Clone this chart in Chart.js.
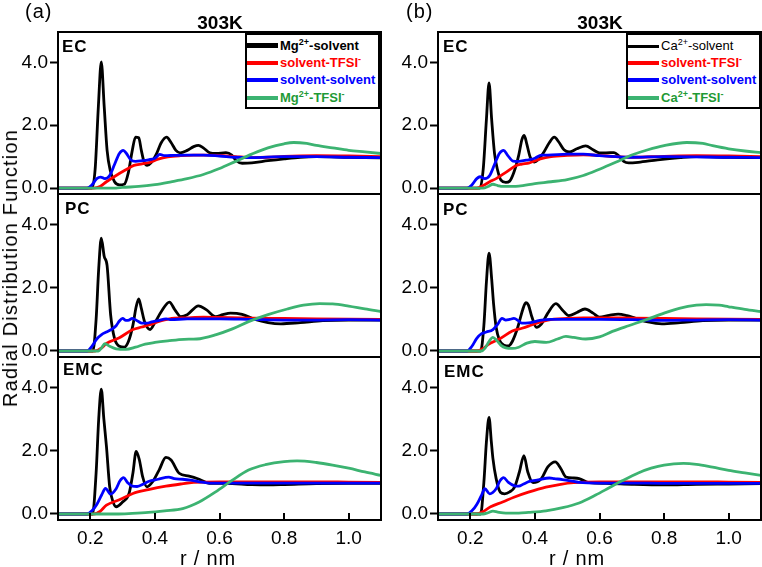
<!DOCTYPE html>
<html>
<head>
<meta charset="utf-8">
<script src="https://cdn.jsdelivr.net/npm/chart.js@4.4.0/dist/chart.umd.min.js"></script>
<style>
html,body{margin:0;padding:0;background:#fff;}
#wrap{position:relative;width:762px;height:567px;overflow:hidden;font-family:"Liberation Sans",Arial,Helvetica,sans-serif;background:#fff;}
canvas{position:absolute;}
.t{position:absolute;white-space:nowrap;color:#000;line-height:1;}
.b{font-weight:bold;}
.leg{position:absolute;top:33px;width:135px;height:76px;border:2px solid #000;background:#fff;box-sizing:border-box;z-index:5;}
.row{position:absolute;left:0;height:16px;width:131px;}
.ln{position:absolute;left:0;top:6px;width:31px;height:4px;}
.lt{position:absolute;left:33px;top:0;line-height:16px;font-size:13px;font-weight:bold;white-space:nowrap;}
.lt sup{font-size:9px;vertical-align:5px;line-height:0;}
</style>
</head>
<body>
<div id="wrap">
  <canvas id="c00" width="390" height="192" style="left:0;top:17px"></canvas>
  <canvas id="c01" width="390" height="193" style="left:0;top:179px"></canvas>
  <canvas id="c02" width="390" height="225" style="left:0;top:342px"></canvas>
  <canvas id="c10" width="382" height="192" style="left:380px;top:17px"></canvas>
  <canvas id="c11" width="382" height="193" style="left:380px;top:179px"></canvas>
  <canvas id="c12" width="382" height="225" style="left:380px;top:342px"></canvas>

  <div class="t" style="left:25px;top:1px;font-size:20px;letter-spacing:1px">(a)</div>
  <div class="t" style="left:406px;top:1px;font-size:20px;letter-spacing:1px">(b)</div>
  <div class="t b" style="left:220px;top:13px;font-size:19px;transform:translateX(-50%)">303K</div>
  <div class="t b" style="left:600px;top:13px;font-size:19px;transform:translateX(-50%)">303K</div>

  <div class="t b" style="left:62px;top:38px;font-size:17px;letter-spacing:1px;z-index:4">EC</div>
  <div class="t b" style="left:65px;top:200px;font-size:17px;letter-spacing:1px;z-index:4">PC</div>
  <div class="t b" style="left:63px;top:361px;font-size:17px;letter-spacing:1px;z-index:4">EMC</div>
  <div class="t b" style="left:443px;top:38px;font-size:17px;letter-spacing:1px;z-index:4">EC</div>
  <div class="t b" style="left:443px;top:201px;font-size:17px;letter-spacing:1px;z-index:4">PC</div>
  <div class="t b" style="left:444px;top:363px;font-size:17px;letter-spacing:1px;z-index:4">EMC</div>

  <div class="t" style="left:10px;top:268px;font-size:20px;letter-spacing:1.2px;transform:translate(-50%,-50%) rotate(-90deg)">Radial Distribution Function</div>
  <div class="t" style="left:208px;top:558px;font-size:20px;letter-spacing:0.8px;transform:translate(-50%,-50%)">r / nm</div>
  <div class="t" style="left:577px;top:558px;font-size:20px;letter-spacing:0.8px;transform:translate(-50%,-50%)">r / nm</div>

  <div class="leg" style="left:245px">
    <div class="row" style="top:3px"><span class="ln" style="background:#000;height:5px;top:5px"></span><span class="lt" style="color:#000">Mg<sup>2+</sup>-solvent</span></div>
    <div class="row" style="top:20px"><span class="ln" style="background:#ff0000"></span><span class="lt" style="color:#ff0000">solvent-TFSI<sup>-</sup></span></div>
    <div class="row" style="top:37px"><span class="ln" style="background:#0000ff"></span><span class="lt" style="color:#0000ff">solvent-solvent</span></div>
    <div class="row" style="top:55px"><span class="ln" style="background:#3cb371"></span><span class="lt" style="color:#1f9a35">Mg<sup>2+</sup>-TFSI<sup>-</sup></span></div>
  </div>
  <div class="leg" style="left:626px">
    <div class="row" style="top:3px"><span class="ln" style="background:#000;height:3px;top:7px"></span><span class="lt" style="color:#000;font-weight:normal">Ca<sup>2+</sup>-solvent</span></div>
    <div class="row" style="top:20px"><span class="ln" style="background:#ff0000"></span><span class="lt" style="color:#ff0000">solvent-TFSI<sup>-</sup></span></div>
    <div class="row" style="top:37px"><span class="ln" style="background:#0000ff"></span><span class="lt" style="color:#0000ff">solvent-solvent</span></div>
    <div class="row" style="top:55px"><span class="ln" style="background:#3cb371"></span><span class="lt" style="color:#1f9a35">Ca<sup>2+</sup>-TFSI<sup>-</sup></span></div>
  </div>
</div>
<script>
// ---------- categories / ticks ----------
const solvents = ['EC', 'PC', 'EMC'];
const xTicks = [0.2, 0.4, 0.6, 0.8, 1.0];
const yTicks = [0, 2, 4];
const seriesLabels = ['cation-solvent', 'solvent-TFSI-', 'solvent-solvent', 'cation-TFSI-'];

// ---------- (a) Mg, EC ----------
const mgEC_MS = [[0.10,0],[0.205,0],[0.215,0.6],[0.225,2.6],[0.234,4.02],[0.243,2.6],[0.252,1.2],[0.262,0.55],[0.275,0.2],[0.29,0.1],[0.305,0.12],[0.318,0.5],[0.33,1.2],[0.34,1.62],[0.35,1.6],[0.358,1.2],[0.366,0.85],[0.376,0.72],[0.388,0.8],[0.404,1.07],[0.42,1.45],[0.436,1.62],[0.45,1.45],[0.465,1.2],[0.478,1.12],[0.50,1.2],[0.52,1.32],[0.535,1.36],[0.55,1.28],[0.57,1.12],[0.59,1.1],[0.62,1.13],[0.638,1.05],[0.652,0.87],[0.67,0.79],[0.70,0.8],[0.75,0.87],[0.80,0.93],[0.85,0.98],[0.90,1.0],[1.0,0.98],[1.1,0.96]];
const mgEC_ST = [[0.10,0],[0.21,0],[0.23,0.05],[0.25,0.2],[0.28,0.4],[0.31,0.58],[0.335,0.72],[0.36,0.77],[0.385,0.82],[0.41,0.92],[0.44,0.99],[0.48,1.03],[0.52,1.05],[0.56,1.05],[0.60,1.04],[0.65,1.0],[0.70,0.97],[0.75,0.98],[0.80,1.01],[0.90,1.03],[1.0,1.02],[1.1,1.0]];
const mgEC_SS = [[0.10,0],[0.19,0],[0.205,0.1],[0.22,0.3],[0.232,0.35],[0.245,0.3],[0.26,0.4],[0.275,0.75],[0.29,1.1],[0.302,1.2],[0.312,1.1],[0.325,0.9],[0.34,0.85],[0.36,0.87],[0.38,0.9],[0.40,0.95],[0.415,1.07],[0.43,1.03],[0.46,1.04],[0.50,1.05],[0.55,1.05],[0.60,1.02],[0.65,0.98],[0.70,0.97],[0.80,1.0],[0.90,1.0],[1.0,0.98],[1.1,0.97]];
const mgEC_MT = [[0.10,0],[0.28,0],[0.30,0.02],[0.35,0.05],[0.40,0.11],[0.45,0.2],[0.50,0.3],[0.55,0.43],[0.60,0.62],[0.65,0.85],[0.70,1.08],[0.75,1.28],[0.80,1.41],[0.83,1.45],[0.87,1.42],[0.90,1.36],[0.95,1.28],[1.0,1.2],[1.05,1.15],[1.1,1.1]];

// ---------- (a) Mg, PC ----------
const mgPC_MS = [[0.10,0],[0.208,0],[0.218,1.0],[0.226,2.6],[0.234,3.57],[0.243,3.0],[0.252,2.7],[0.263,1.14],[0.275,0.4],[0.29,0.15],[0.305,0.12],[0.318,0.3],[0.332,0.82],[0.342,1.4],[0.35,1.65],[0.358,1.35],[0.368,0.93],[0.385,0.68],[0.40,0.9],[0.42,1.25],[0.445,1.55],[0.462,1.3],[0.48,1.09],[0.50,1.15],[0.535,1.43],[0.56,1.3],[0.588,1.09],[0.61,1.15],[0.634,1.2],[0.67,1.16],[0.71,1.0],[0.75,0.9],[0.79,0.86],[0.85,0.9],[0.92,0.96],[1.0,0.98],[1.1,0.98]];
const mgPC_ST = [[0.10,0],[0.215,0],[0.235,0.1],[0.25,0.24],[0.29,0.42],[0.332,0.68],[0.36,0.76],[0.383,0.83],[0.41,0.93],[0.445,1.02],[0.50,1.05],[0.55,1.07],[0.60,1.06],[0.70,1.04],[0.80,1.03],[0.90,1.02],[1.0,1.01],[1.1,1.0]];
const mgPC_SS = [[0.10,0],[0.19,0],[0.205,0.15],[0.22,0.38],[0.235,0.52],[0.25,0.6],[0.265,0.68],[0.28,0.8],[0.29,0.95],[0.30,1.03],[0.31,0.97],[0.32,0.98],[0.33,1.03],[0.345,0.96],[0.36,0.88],[0.375,0.88],[0.39,0.92],[0.41,0.96],[0.435,1.02],[0.45,0.99],[0.50,1.02],[0.60,1.02],[0.70,1.0],[0.80,0.98],[0.90,0.98],[1.0,0.99],[1.1,0.98]];
const mgPC_MT = [[0.10,0],[0.225,0],[0.235,0.1],[0.245,0.23],[0.26,0.15],[0.28,0.07],[0.31,0.05],[0.34,0.12],[0.37,0.22],[0.40,0.27],[0.44,0.32],[0.49,0.37],[0.53,0.38],[0.59,0.52],[0.64,0.7],[0.69,0.93],[0.75,1.15],[0.81,1.33],[0.86,1.45],[0.91,1.5],[0.95,1.49],[1.0,1.42],[1.05,1.33],[1.1,1.25]];

// ---------- (a) Mg, EMC ----------
const mgEMC_MS = [[0.10,0],[0.207,0],[0.218,1.3],[0.226,3.0],[0.234,3.95],[0.242,3.0],[0.25,2.14],[0.26,0.86],[0.27,0.4],[0.28,0.23],[0.30,0.38],[0.32,0.65],[0.332,1.3],[0.342,1.98],[0.352,1.71],[0.362,1.18],[0.375,0.86],[0.393,1.02],[0.413,1.39],[0.434,1.79],[0.45,1.71],[0.475,1.29],[0.506,1.2],[0.537,1.1],[0.568,0.97],[0.62,0.97],[0.70,0.93],[0.75,0.92],[0.80,0.93],[0.90,0.96],[1.0,0.97],[1.1,0.97]];
const mgEMC_ST = [[0.10,0],[0.21,0],[0.23,0.08],[0.25,0.28],[0.29,0.45],[0.332,0.65],[0.38,0.77],[0.434,0.88],[0.48,0.95],[0.52,1.0],[0.60,1.02],[0.70,1.02],[0.80,1.02],[0.90,1.02],[1.0,1.01],[1.1,1.0]];
const mgEMC_SS = [[0.10,0],[0.19,0],[0.205,0.1],[0.22,0.3],[0.235,0.6],[0.247,0.81],[0.263,0.63],[0.28,0.8],[0.292,1.05],[0.303,1.15],[0.315,1.0],[0.33,0.88],[0.345,0.87],[0.365,0.95],[0.38,1.03],[0.41,1.1],[0.443,1.17],[0.46,1.12],[0.485,1.1],[0.51,1.07],[0.537,1.02],[0.58,0.98],[0.65,0.98],[0.80,0.98],[1.0,0.98],[1.1,0.98]];
const mgEMC_MT = [[0.10,0],[0.28,0],[0.33,0.02],[0.38,0.05],[0.43,0.1],[0.486,0.17],[0.537,0.38],[0.588,0.7],[0.64,1.07],[0.69,1.39],[0.742,1.56],[0.80,1.66],[0.84,1.68],[0.90,1.63],[0.95,1.55],[1.0,1.45],[1.05,1.33],[1.1,1.22]];

// ---------- (b) Ca, EC ----------
const caEC_MS = [[0.10,0],[0.23,0],[0.24,0.6],[0.25,2.2],[0.258,3.35],[0.266,2.2],[0.275,1.1],[0.285,0.55],[0.295,0.25],[0.31,0.18],[0.322,0.22],[0.335,0.5],[0.35,1.05],[0.36,1.55],[0.367,1.68],[0.375,1.4],[0.385,1.0],[0.398,0.83],[0.41,0.9],[0.425,1.1],[0.445,1.45],[0.46,1.62],[0.475,1.45],[0.49,1.22],[0.506,1.15],[0.53,1.25],[0.557,1.34],[0.58,1.22],[0.60,1.12],[0.62,1.12],[0.645,1.13],[0.66,1.02],[0.675,0.85],[0.69,0.8],[0.72,0.82],[0.78,0.9],[0.85,0.97],[0.90,1.0],[1.0,0.98],[1.1,0.97]];
const caEC_ST = [[0.10,0],[0.22,0],[0.24,0.08],[0.26,0.2],[0.28,0.3],[0.31,0.5],[0.342,0.72],[0.36,0.76],[0.383,0.8],[0.417,0.93],[0.45,1.0],[0.50,1.04],[0.55,1.06],[0.60,1.04],[0.65,1.0],[0.70,0.98],[0.80,1.01],[0.90,1.03],[1.0,1.02],[1.1,1.0]];
const caEC_SS = [[0.10,0],[0.19,0],[0.205,0.1],[0.22,0.3],[0.23,0.36],[0.245,0.3],[0.26,0.4],[0.275,0.75],[0.29,1.1],[0.303,1.2],[0.315,1.05],[0.332,0.86],[0.35,0.85],[0.38,0.9],[0.40,0.95],[0.42,1.05],[0.44,1.05],[0.50,1.08],[0.55,1.08],[0.60,1.03],[0.65,1.0],[0.70,0.98],[0.80,1.0],[1.0,0.98],[1.1,0.97]];
const caEC_MT = [[0.10,0],[0.24,0],[0.255,0.05],[0.27,0.12],[0.285,0.08],[0.30,0.05],[0.35,0.06],[0.40,0.14],[0.45,0.2],[0.50,0.27],[0.55,0.4],[0.60,0.6],[0.65,0.82],[0.70,1.05],[0.75,1.22],[0.80,1.35],[0.87,1.45],[0.92,1.42],[0.95,1.35],[1.0,1.25],[1.05,1.18],[1.1,1.13]];

// ---------- (b) Ca, PC ----------
const caPC_MS = [[0.10,0],[0.232,0],[0.242,0.8],[0.25,2.2],[0.258,3.1],[0.266,2.3],[0.272,1.5],[0.28,0.75],[0.29,0.35],[0.305,0.18],[0.318,0.16],[0.33,0.3],[0.347,0.75],[0.362,1.3],[0.372,1.53],[0.38,1.45],[0.39,1.1],[0.405,0.75],[0.42,0.85],[0.44,1.2],[0.465,1.5],[0.485,1.3],[0.505,1.12],[0.53,1.22],[0.555,1.33],[0.58,1.2],[0.60,1.07],[0.63,1.13],[0.658,1.17],[0.685,1.12],[0.71,1.04],[0.75,0.92],[0.793,0.86],[0.85,0.9],[0.92,0.96],[1.0,0.98],[1.1,0.98]];
const caPC_ST = [[0.10,0],[0.22,0],[0.24,0.08],[0.255,0.2],[0.29,0.38],[0.33,0.63],[0.36,0.72],[0.383,0.8],[0.41,0.9],[0.44,0.98],[0.50,1.03],[0.55,1.05],[0.60,1.05],[0.70,1.04],[0.80,1.03],[0.90,1.02],[1.0,1.01],[1.1,1.0]];
const caPC_SS = [[0.10,0],[0.19,0],[0.205,0.15],[0.22,0.4],[0.235,0.55],[0.25,0.6],[0.27,0.68],[0.285,0.85],[0.298,1.03],[0.31,0.98],[0.322,1.0],[0.335,1.03],[0.35,0.95],[0.36,0.88],[0.38,0.89],[0.40,0.93],[0.42,0.98],[0.45,1.0],[0.50,1.0],[0.60,1.0],[0.70,0.99],[0.80,0.97],[0.90,0.98],[1.0,0.99],[1.1,0.98]];
const caPC_MT = [[0.10,0],[0.235,0],[0.245,0.08],[0.258,0.3],[0.27,0.43],[0.282,0.33],[0.295,0.18],[0.31,0.1],[0.33,0.08],[0.35,0.12],[0.375,0.25],[0.40,0.3],[0.435,0.27],[0.47,0.38],[0.496,0.46],[0.52,0.43],[0.557,0.38],[0.60,0.45],[0.64,0.62],[0.69,0.8],[0.742,0.98],[0.80,1.2],[0.85,1.36],[0.90,1.45],[0.93,1.47],[0.97,1.45],[1.0,1.4],[1.05,1.32],[1.1,1.25]];

// ---------- (b) Ca, EMC ----------
const caEMC_MS = [[0.10,0],[0.232,0],[0.242,1.0],[0.25,2.3],[0.258,3.06],[0.265,2.3],[0.27,1.76],[0.28,1.12],[0.293,0.69],[0.306,0.64],[0.322,0.7],[0.337,0.85],[0.352,1.33],[0.366,1.85],[0.378,1.33],[0.394,0.99],[0.42,1.12],[0.44,1.49],[0.463,1.65],[0.48,1.44],[0.496,1.17],[0.52,1.14],[0.537,1.12],[0.568,0.99],[0.62,0.97],[0.70,0.94],[0.80,0.92],[0.90,0.94],[1.0,0.95],[1.1,0.96]];
const caEMC_ST = [[0.10,0],[0.22,0],[0.24,0.08],[0.263,0.23],[0.30,0.38],[0.335,0.53],[0.38,0.69],[0.434,0.85],[0.48,0.94],[0.52,0.99],[0.60,1.02],[0.70,1.02],[0.80,1.02],[0.90,1.02],[1.0,1.01],[1.1,1.0]];
const caEMC_SS = [[0.10,0],[0.19,0],[0.205,0.1],[0.22,0.3],[0.235,0.6],[0.245,0.8],[0.26,0.64],[0.28,0.8],[0.292,1.05],[0.303,1.15],[0.318,1.0],[0.335,0.9],[0.35,0.88],[0.365,0.95],[0.383,1.03],[0.41,1.08],[0.445,1.14],[0.46,1.12],[0.485,1.09],[0.51,1.05],[0.537,1.0],[0.60,0.98],[0.70,0.98],[0.80,0.97],[1.0,0.97],[1.1,0.97]];
const caEMC_MT = [[0.10,0],[0.24,0],[0.255,0.04],[0.27,0.09],[0.285,0.06],[0.31,0.03],[0.35,0.03],[0.38,0.05],[0.434,0.1],[0.486,0.2],[0.537,0.35],[0.588,0.6],[0.63,0.83],[0.67,1.05],[0.72,1.3],[0.76,1.45],[0.80,1.55],[0.86,1.6],[0.90,1.57],[0.95,1.48],[1.0,1.38],[1.05,1.3],[1.1,1.22]];

// ---------- drawing ----------
const COLORS = ['#000000', '#ff0000', '#0000ff', '#3cb371'];
const FONT = '"Liberation Sans", Arial, Helvetica, sans-serif';
Chart.defaults.font.family = FONT;
Chart.defaults.color = '#000';

const framePlugin = {
  id: 'frame',
  afterDatasetsDraw(chart, args, opts) {
    const ctx = chart.ctx, a = chart.chartArea;
    ctx.save();
    ctx.strokeStyle = '#000';
    ctx.lineWidth = 2;
    if (opts && opts.innerTicks) {
      const xs = chart.scales.x;
      xTicks.forEach(v => {
        const px = Math.round(xs.getPixelForValue(v));
        ctx.beginPath();
        ctx.moveTo(px, a.bottom);
        ctx.lineTo(px, a.bottom - 7);
        ctx.stroke();
      });
    }
    ctx.strokeRect(a.left, a.top, a.right - a.left, a.bottom - a.top);
    ctx.restore();
  }
};

function makePanel(id, seriesList, isBottom) {
  const datasets = seriesList.map((arr, i) => ({
    label: seriesLabels[i],
    data: arr.map(p => ({ x: p[0], y: p[1] })),
    borderColor: COLORS[i],
    backgroundColor: COLORS[i],
    borderWidth: 2.8,
    pointRadius: 0,
    fill: false,
    cubicInterpolationMode: 'monotone',
    order: 4 - i
  }));
  const xScale = {
    type: 'linear', min: 0.1, max: 1.1,
    display: isBottom,
    afterBuildTicks: s => { s.ticks = xTicks.map(v => ({ value: v })); },
    grid: { display: false, drawTicks: false },
    border: { display: false },
    ticks: { padding: 7, font: { size: 19, family: FONT }, color: '#000', callback: v => Number(v).toFixed(1), maxRotation: 0, autoSkip: false }
  };
  if (isBottom) xScale.afterFit = s => { s.height = 47; };
  new Chart(document.getElementById(id), {
    type: 'line',
    data: { datasets },
    plugins: [framePlugin],
    options: {
      responsive: false,
      animation: false,
      devicePixelRatio: 1,
      events: [],
      layout: { padding: { left: 0, right: id.startsWith('c0') ? 9 : 1, top: 15, bottom: isBottom ? 0 : 15 } },
      plugins: { legend: { display: false }, tooltip: { enabled: false }, frame: { innerTicks: isBottom } },
      scales: {
        x: xScale,
        y: {
          type: 'linear', min: -0.19, max: 4.97,
          afterBuildTicks: s => { s.ticks = yTicks.map(v => ({ value: v })); },
          afterFit: s => { s.width = 58; },
          grid: { display: true, drawOnChartArea: false, drawTicks: true, tickLength: 8, tickWidth: 2, tickColor: '#000' },
          border: { display: false },
          ticks: { padding: 2, font: { size: 19, family: FONT }, color: '#000', callback: v => Number(v).toFixed(1) }
        }
      }
    }
  });
}

const panels = [
  ['c00', [mgEC_MS, mgEC_ST, mgEC_SS, mgEC_MT], false],
  ['c01', [mgPC_MS, mgPC_ST, mgPC_SS, mgPC_MT], false],
  ['c02', [mgEMC_MS, mgEMC_ST, mgEMC_SS, mgEMC_MT], true],
  ['c10', [caEC_MS, caEC_ST, caEC_SS, caEC_MT], false],
  ['c11', [caPC_MS, caPC_ST, caPC_SS, caPC_MT], false],
  ['c12', [caEMC_MS, caEMC_ST, caEMC_SS, caEMC_MT], true]
];
panels.forEach(p => makePanel(p[0], p[1], p[2]));
</script>
</body>
</html>
